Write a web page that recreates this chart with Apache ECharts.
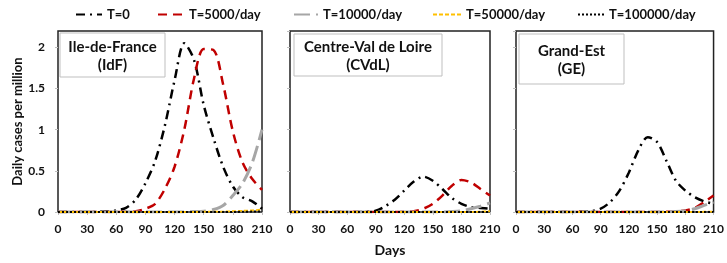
<!DOCTYPE html>
<html>
<head>
<meta charset="utf-8">
<script src="https://cdn.jsdelivr.net/npm/echarts@6/dist/echarts.min.js"></script>
<style>
  html, body { margin: 0; padding: 0; background: #fff; }
  #chart { width: 727px; height: 263px; }
</style>
</head>
<body>
<div id="chart"></div>
<script>
// days (x axis), every 10 days
const days = [0, 10, 20, 30, 40, 50, 60, 70, 80, 90, 100, 110, 120, 130, 140, 150, 160, 170, 180, 190, 200, 210];
const seriesNames = ['T=0', 'T=5000/day', 'T=10000/day', 'T=50000/day', 'T=100000/day'];
const regionNames = ['Ile-de-France\n(IdF)', 'Centre-Val de Loire\n(CVdL)', 'Grand-Est\n(GE)'];

// Ile-de-France
const idfT0     = [0, 0, 0, 0, 0.002, 0.008, 0.02, 0.05, 0.15, 0.35, 0.62, 1.05, 1.6, 2.05, 1.85, 1.3, 0.9, 0.55, 0.31, 0.18, 0.13, 0.04];
const idfT5000  = [0, 0, 0, 0, 0, 0, 0, 0.003, 0.01, 0.04, 0.1, 0.28, 0.55, 1.0, 1.62, 1.98, 1.97, 1.55, 0.98, 0.6, 0.4, 0.27];
const idfT10000 = [0, 0, 0, 0, 0, 0, 0.003, 0.003, 0, 0, 0, 0, 0, 0, 0.005, 0.01, 0.03, 0.08, 0.2, 0.35, 0.6, 1.0];
const idfT50000 = [0, 0, 0, 0, 0, 0, 0, 0, 0, 0, 0, 0, 0, 0, 0, 0.003, 0.004, 0.005, 0.01, 0.015, 0.02, 0.03];
const idfT100000 = [0, 0, 0, 0, 0, 0, 0, 0, 0, 0, 0, 0, 0, 0, 0, 0, 0, 0, 0, 0.003, 0.005, 0.008];

// Centre-Val de Loire
const cvdlT0     = [0, 0, 0, 0, 0, 0, 0, 0, 0.003, 0.015, 0.07, 0.15, 0.26, 0.37, 0.43, 0.38, 0.28, 0.17, 0.1, 0.06, 0.05, 0.04];
const cvdlT5000  = [0, 0, 0, 0, 0, 0, 0, 0, 0, 0, 0, 0, 0.003, 0.01, 0.04, 0.1, 0.2, 0.32, 0.39, 0.36, 0.28, 0.2];
const cvdlT10000 = [0, 0, 0, 0, 0, 0, 0, 0, 0, 0, 0, 0, 0, 0, 0, 0, 0, 0.005, 0.015, 0.04, 0.07, 0.11];
const cvdlT50000 = [0, 0, 0, 0, 0, 0, 0, 0, 0, 0, 0, 0, 0, 0, 0, 0, 0, 0, 0, 0, 0.005, 0.01];
const cvdlT100000 = [0, 0, 0, 0, 0, 0, 0, 0, 0, 0, 0, 0, 0, 0, 0, 0, 0, 0, 0, 0, 0, 0];

// Grand-Est
const geT0     = [0, 0, 0, 0, 0, 0, 0, 0.003, 0.01, 0.04, 0.12, 0.26, 0.48, 0.75, 0.91, 0.85, 0.62, 0.38, 0.26, 0.18, 0.13, 0.1];
const geT5000  = [0, 0, 0, 0, 0, 0, 0, 0, 0, 0, 0, 0, 0, 0, 0, 0, 0.002, 0.008, 0.02, 0.05, 0.12, 0.2];
const geT10000 = [0, 0, 0, 0, 0, 0, 0, 0, 0, 0, 0, 0, 0, 0, 0, 0, 0.002, 0.005, 0.015, 0.04, 0.08, 0.12];
const geT50000 = [0, 0, 0, 0, 0, 0, 0, 0, 0, 0, 0, 0, 0, 0, 0, 0, 0, 0, 0, 0, 0.003, 0.005];
const geT100000 = [0, 0, 0, 0, 0, 0, 0, 0, 0, 0, 0, 0, 0, 0, 0, 0, 0, 0, 0, 0, 0, 0];

const panels = [
  [idfT0, idfT5000, idfT10000, idfT50000, idfT100000],
  [cvdlT0, cvdlT5000, cvdlT10000, cvdlT50000, cvdlT100000],
  [geT0, geT5000, geT10000, geT50000, geT100000]
];

const fontFam = 'Lato, "Open Sans", sans-serif';

// line looks per scenario
const lineStyles = [
  { color: '#000000', width: 2.5, type: [9, 5, 2, 5] },
  { color: '#c00000', width: 2.5, type: [9, 6] },
  { color: '#a6a6a6', width: 3, type: [16, 6] },
  { color: '#ffc000', width: 1.8, type: [4, 2] },
  { color: '#000000', width: 2, type: [2, 2] }
];

const chart = echarts.init(document.getElementById('chart'));

const gridPos = [
  { left: 58, width: 204 },
  { left: 290, width: 200 },
  { left: 516, width: 203 }
];

const grids = gridPos.map(g => ({
  left: g.left, top: 31, width: g.width, height: 181,
  show: true, borderColor: '#222', borderWidth: 1.5, backgroundColor: 'transparent'
}));

const xAxes = gridPos.map((g, i) => ({
  type: 'value', gridIndex: i, min: 0, max: 210, interval: 30,
  axisLine: { show: false },
  axisTick: { show: true, inside: false, length: 3, lineStyle: { color: '#bfbfbf' } },
  splitLine: { show: false },
  axisLabel: { color: '#111', fontFamily: fontFam, fontWeight: 'bold', fontSize: 12, margin: 11 },
  name: i === 1 ? 'Days' : '',
  nameLocation: 'middle', nameGap: 31,
  nameTextStyle: { color: '#111', fontFamily: fontFam, fontWeight: 'bold', fontSize: 14 }
}));

const yAxes = gridPos.map((g, i) => ({
  type: 'value', gridIndex: i, min: 0, max: 2.2, interval: 0.5,
  axisLine: { show: false },
  axisTick: { show: true, length: 3, lineStyle: { color: '#bfbfbf' } },
  splitLine: { show: false },
  axisLabel: {
    show: i === 0, showMaxLabel: false,
    color: '#111', fontFamily: fontFam, fontWeight: 'bold', fontSize: 12, margin: 13
  },
  name: i === 0 ? 'Daily cases per million' : '',
  nameLocation: 'middle', nameGap: 31,
  nameTextStyle: { color: '#111', fontFamily: fontFam, fontWeight: 'bold', fontSize: 13 }
}));

const series = [];
panels.forEach((panel, p) => {
  panel.forEach((vals, s) => {
    series.push({
      name: seriesNames[s],
      type: 'line',
      xAxisIndex: p, yAxisIndex: p,
      data: days.map((d, k) => [d, vals[k]]),
      smooth: 0.3,
      symbol: 'none',
      showSymbol: false,
      lineStyle: lineStyles[s],
      itemStyle: { color: lineStyles[s].color },
      animation: false,
      z: 2 + s
    });
  });
});

// separate legends so each entry sits where it does in the figure
const legendLefts = [70, 152, 288, 427, 572];
const legendWidths = [26, 26, 24, 28, 26];
const legends = seriesNames.map((n, i) => ({
  data: [n], left: legendLefts[i], top: 3,
  itemWidth: legendWidths[i], itemHeight: 14, itemGap: 0,
  itemStyle: { opacity: 0 },
  textStyle: { color: '#111', fontFamily: fontFam, fontWeight: 'bold', fontSize: 13 },
  selectedMode: false
}));

// label boxes in the upper-left of each panel
const boxes = [
  { x: 60, y: 33, w: 105, h: 44 },
  { x: 294, y: 34, w: 148, h: 42 },
  { x: 519, y: 34, w: 105, h: 50 }
];
const graphics = [];
boxes.forEach((b, i) => {
  graphics.push({
    type: 'rect', shape: { x: b.x, y: b.y, width: b.w, height: b.h },
    style: { fill: '#fff', stroke: '#bfbfbf', lineWidth: 1 }, z: 50
  });
  graphics.push({
    type: 'text', x: b.x + b.w / 2, y: b.y + b.h / 2 + 1, z: 51,
    style: {
      text: regionNames[i], align: 'center', verticalAlign: 'middle',
      font: 'bold 15px ' + fontFam, lineHeight: 18, fill: '#111'
    }
  });
});

chart.setOption({
  animation: false,
  legend: legends,
  grid: grids,
  xAxis: xAxes,
  yAxis: yAxes,
  series: series,
  graphic: graphics
});
</script>
</body>
</html>
